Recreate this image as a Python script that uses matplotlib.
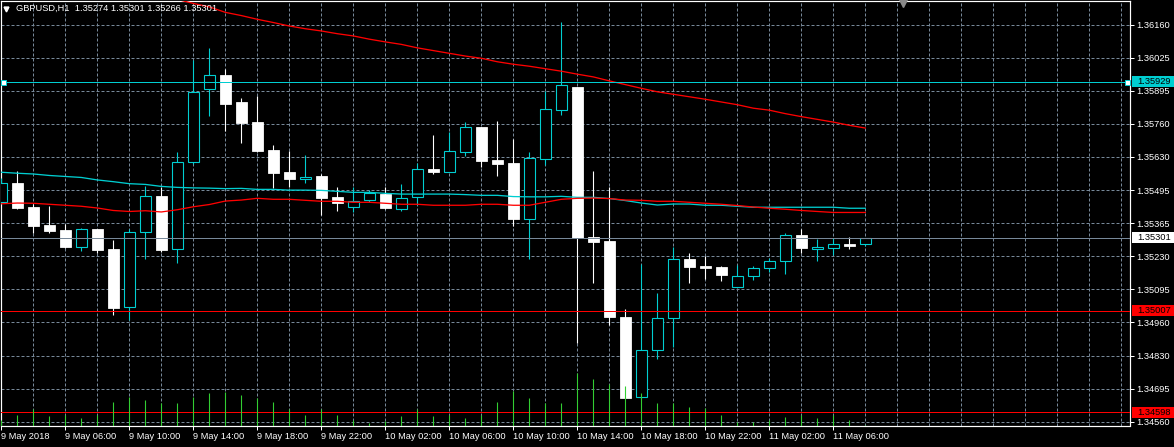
import numpy as np
import matplotlib
matplotlib.use("Agg")
import matplotlib.pyplot as plt
import matplotlib.transforms as mtransforms
from matplotlib.patches import Rectangle
from matplotlib.lines import Line2D

# ---------------- data ----------------
symbol_title = "GBPUSD,H1  1.35274 1.35301 1.35266 1.35301"

opens = [1.35446, 1.35521, 1.35425, 1.35352, 1.35332, 1.35265, 1.35336, 1.35256, 1.35021, 1.35323,
         1.35469, 1.35254, 1.35605, 1.35899, 1.35957, 1.35848, 1.35767, 1.35654, 1.35566, 1.35538,
         1.35550, 1.35465, 1.35424, 1.35454, 1.35477, 1.35418, 1.35464, 1.35578, 1.35567, 1.35648,
         1.35747, 1.35614, 1.35602, 1.35378, 1.35619, 1.35817, 1.35908, 1.35304, 1.35288, 1.34981,
         1.34660, 1.34851, 1.34979, 1.35215, 1.35187, 1.35183, 1.35101, 1.35149, 1.35178, 1.35206,
         1.35311, 1.35257, 1.35261, 1.35278, 1.35274]
highs = [1.35540, 1.35570, 1.35437, 1.35429, 1.35356, 1.35340, 1.35337, 1.35292, 1.35337, 1.35511,
         1.35505, 1.35646, 1.36017, 1.36066, 1.35981, 1.35864, 1.35872, 1.35675, 1.35652, 1.35634,
         1.35559, 1.35505, 1.35505, 1.35494, 1.35507, 1.35517, 1.35602, 1.35715, 1.35726, 1.35767,
         1.35747, 1.35771, 1.35698, 1.35646, 1.35893, 1.36170, 1.35908, 1.35570, 1.35507, 1.35014,
         1.35194, 1.35078, 1.35264, 1.35238, 1.35227, 1.35187, 1.35191, 1.35187, 1.35218, 1.35319,
         1.35337, 1.35297, 1.35299, 1.35304, 1.35301]
lows = [1.35444, 1.35417, 1.35321, 1.35321, 1.35258, 1.35249, 1.35238, 1.34991, 1.34969, 1.35216,
        1.35245, 1.35200, 1.35597, 1.35793, 1.35732, 1.35683, 1.35645, 1.35503, 1.35507, 1.35523,
        1.35393, 1.35409, 1.35403, 1.35446, 1.35418, 1.35410, 1.35434, 1.35559, 1.35567, 1.35629,
        1.35587, 1.35551, 1.35349, 1.35216, 1.35595, 1.35797, 1.34879, 1.35120, 1.34949, 1.34656,
        1.34655, 1.34813, 1.34862, 1.35120, 1.35136, 1.35128, 1.35101, 1.35132, 1.35162, 1.35156,
        1.35238, 1.35208, 1.35233, 1.35257, 1.35266]
closes = [1.35521, 1.35421, 1.35349, 1.35329, 1.35265, 1.35335, 1.35253, 1.35019, 1.35323, 1.35468,
          1.35253, 1.35605, 1.35888, 1.35956, 1.35841, 1.35763, 1.35650, 1.35563, 1.35539, 1.35546,
          1.35462, 1.35442, 1.35449, 1.35481, 1.35422, 1.35460, 1.35577, 1.35567, 1.35649, 1.35746,
          1.35610, 1.35599, 1.35376, 1.35621, 1.35819, 1.35915, 1.35300, 1.35285, 1.34983, 1.34656,
          1.34851, 1.34976, 1.35214, 1.35184, 1.35180, 1.35152, 1.35149, 1.35178, 1.35206, 1.35311,
          1.35261, 1.35262, 1.35278, 1.35269, 1.35301]
volumes = [6, 11, 17, 10, 11, 8, 11, 24, 29, 26,
           23, 23, 29, 33, 34, 31, 28, 24, 17, 11,
           17, 11, 6, 3, 5, 10, 17, 10, 11, 8,
           11, 24, 35, 28, 23, 23, 53, 47, 42, 40,
           33, 23, 23, 19, 18, 11, 4, 4, 6, 9,
           11, 8, 11, 6, 1]

ma_cyan = [1.35565, 1.35561, 1.35558, 1.35552, 1.35548, 1.35544, 1.35534, 1.35527, 1.35519, 1.35516,
           1.35508, 1.35504, 1.35502, 1.35501, 1.35499, 1.35500, 1.35496, 1.35496, 1.35493, 1.35493,
           1.35492, 1.35488, 1.35484, 1.35484, 1.35480, 1.35477, 1.35477, 1.35477, 1.35477, 1.35475,
           1.35472, 1.35472, 1.35467, 1.35466, 1.35466, 1.35468, 1.35464, 1.35464, 1.35459, 1.35451,
           1.35441, 1.35433, 1.35437, 1.35437, 1.35432, 1.35432, 1.35428, 1.35424, 1.35424, 1.35424,
           1.35424, 1.35424, 1.35424, 1.35420, 1.35420]
ma_red_fast = [1.35438, 1.35441, 1.35440, 1.35436, 1.35432, 1.35428, 1.35421, 1.35411, 1.35407, 1.35410,
               1.35405, 1.35414, 1.35426, 1.35435, 1.35449, 1.35453, 1.35460, 1.35456, 1.35456, 1.35452,
               1.35448, 1.35448, 1.35444, 1.35444, 1.35440, 1.35436, 1.35436, 1.35432, 1.35432, 1.35432,
               1.35436, 1.35436, 1.35432, 1.35432, 1.35444, 1.35456, 1.35460, 1.35461, 1.35459, 1.35453,
               1.35452, 1.35448, 1.35448, 1.35444, 1.35440, 1.35436, 1.35431, 1.35425, 1.35420, 1.35416,
               1.35411, 1.35407, 1.35403, 1.35403, 1.35403]
ma_red_slow_start = 11
ma_red_slow = [1.36261, 1.36245, 1.36231, 1.36209, 1.36196, 1.36181, 1.36168, 1.36154, 1.36143, 1.36134,
               1.36123, 1.36114, 1.36101, 1.36090, 1.36080, 1.36066, 1.36055, 1.36044, 1.36033, 1.36024,
               1.36010, 1.36000, 1.35992, 1.35982, 1.35972, 1.35960, 1.35949, 1.35933, 1.35918, 1.35903,
               1.35889, 1.35879, 1.35869, 1.35859, 1.35848, 1.35837, 1.35823, 1.35815, 1.35801, 1.35789,
               1.35778, 1.35767, 1.35754, 1.35743]

level_cyan = 1.35929
level_bid = 1.35301
level_red = [1.35007, 1.34598]

price_labels = ["1.36160", "1.36025", "1.35895", "1.35760", "1.35630", "1.35495", "1.35365",
                "1.35230", "1.35095", "1.34960", "1.34830", "1.34695", "1.34560"]
time_labels = ["9 May 2018", "9 May 06:00", "9 May 10:00", "9 May 14:00", "9 May 18:00",
               "9 May 22:00", "10 May 02:00", "10 May 06:00", "10 May 10:00", "10 May 14:00",
               "10 May 18:00", "10 May 22:00", "11 May 02:00", "11 May 06:00"]
time_label_step = 4

# ---------------- style ----------------
W, H = 1174, 447
BG = "black"
CYAN = "#00CED1"
RED = "#FF0000"
GRID = "#778899"
VOLC = "#32CD32"
FONT = "Liberation Sans"
PX = 0.72  # one pixel in points at 100 dpi

fig = plt.figure(figsize=(W / 100, H / 100), dpi=100, facecolor=BG)
ax_l, ax_r, ax_t, ax_b = 1, 1129.5, 1, 425.5
ax = fig.add_axes([ax_l / W, (H - ax_b) / H, (ax_r - ax_l) / W, (ax_b - ax_t) / H])
ax.set_facecolor(BG)

n = len(opens)
xs = np.arange(n)
o = np.array(opens); c = np.array(closes); hi = np.array(highs); lo = np.array(lows)

ax.set_xlim(-0.02, 70.51)
ax.set_ylim(1.345450, 1.362547)

# grid
ytick_vals = np.linspace(1.36160, 1.34560, len(price_labels))
for yv in ytick_vals:
    ax.axhline(yv, color=GRID, lw=PX, ls=(0, (3, 2)), zorder=0.5)
for xv in range(2, 71, 2):
    ax.axvline(xv, color=GRID, lw=PX, ls=(0, (3, 2)), zorder=0.5)

# candles
bull = c >= o
wick_cols = [CYAN if b else "white" for b in bull]
ax.vlines(xs, lo, hi, colors=wick_cols, lw=PX * 1.1, zorder=3)
body_w = 0.66
bot = np.minimum(o, c)
ht = np.maximum(np.abs(c - o), 0.00002)
ax.bar(xs[bull], ht[bull], bottom=bot[bull], width=body_w, facecolor=BG,
       edgecolor=CYAN, lw=PX * 1.1, zorder=4)
ax.bar(xs[~bull], ht[~bull], bottom=bot[~bull], width=body_w, facecolor="white",
       edgecolor="white", lw=PX * 0.8, zorder=4)

# moving averages
ax.plot(xs, ma_cyan, color=CYAN, lw=PX * 1.3, zorder=5)
ax.plot(xs, ma_red_fast, color=RED, lw=PX * 1.3, zorder=5)
ax.plot(np.arange(ma_red_slow_start, ma_red_slow_start + len(ma_red_slow)), ma_red_slow,
        color=RED, lw=PX * 1.3, zorder=5)

# levels
ax.axhline(level_cyan, color=CYAN, lw=PX, zorder=5)
ax.axhline(level_bid, color=GRID, lw=PX, zorder=5)
for lv in level_red:
    ax.axhline(level_red[0] if False else lv, color=RED, lw=PX, zorder=5)
for xe in (0.12, 70.38):
    ax.plot([xe], [level_cyan], marker="s", ms=3.6, mfc="white", mec=CYAN, mew=0.7,
            zorder=6, clip_on=False)

# volumes
ax2 = ax.twinx()
ax2.set_ylim(0, ax_b - ax_t)
ax2.vlines(xs, 0, volumes, colors=VOLC, lw=PX * 1.1, zorder=6)
ax2.set_yticks([])
for s in ax2.spines.values():
    s.set_visible(False)

# axes styling
for name, s in ax.spines.items():
    s.set_color("white")
    s.set_linewidth(PX * 1.2)
ax.yaxis.tick_right()
ax.set_yticks(ytick_vals)
ax.set_yticklabels(price_labels)
ax.set_xticks(xs[::time_label_step])
ax.set_xticklabels(time_labels, ha="left")
ax.tick_params(axis="y", colors="white", length=3, width=PX, pad=2.2, labelsize=6.7)
ax.tick_params(axis="x", colors="white", length=3, width=PX, pad=2.0, labelsize=6.7)
for lab in ax.get_xticklabels() + ax.get_yticklabels():
    lab.set_fontfamily(FONT)

# price boxes on right axis
blend = mtransforms.blended_transform_factory(fig.transFigure, ax.transData)
pxp = (1.362547 - 1.345450) / (ax_b - ax_t)
boxes = [(level_cyan, CYAN, "1.35929"), (level_bid, "white", "1.35301"),
         (level_red[0], RED, "1.35007"), (level_red[1], RED, "1.34598")]
for val, col, txt in boxes:
    fig.patches.append(Rectangle((1131.5 / W, val - 5.5 * pxp), 42.5 / W, 11 * pxp,
                                 transform=blend, facecolor=col, edgecolor="none", zorder=10))
    fig.text(1137 / W, val, txt, transform=blend, color="black", fontsize=6.7,
             family=FONT, va="center", ha="left", zorder=11)

# title and markers
fig.text(16 / W, 1 - 8.5 / H, symbol_title, color="white", fontsize=6.7, family=FONT,
         va="center", ha="left")
fig.add_artist(Line2D([5.5 / W], [1 - 8.5 / H], marker="v", ms=3.5, color="white",
                      mec="white", transform=fig.transFigure))
fig.add_artist(Line2D([903 / W], [1 - 2 / H], marker="v", ms=7, color="#8a8a8a",
                      mec="#8a8a8a", transform=fig.transFigure))

fig.savefig("out.png", dpi=100, facecolor=BG)
